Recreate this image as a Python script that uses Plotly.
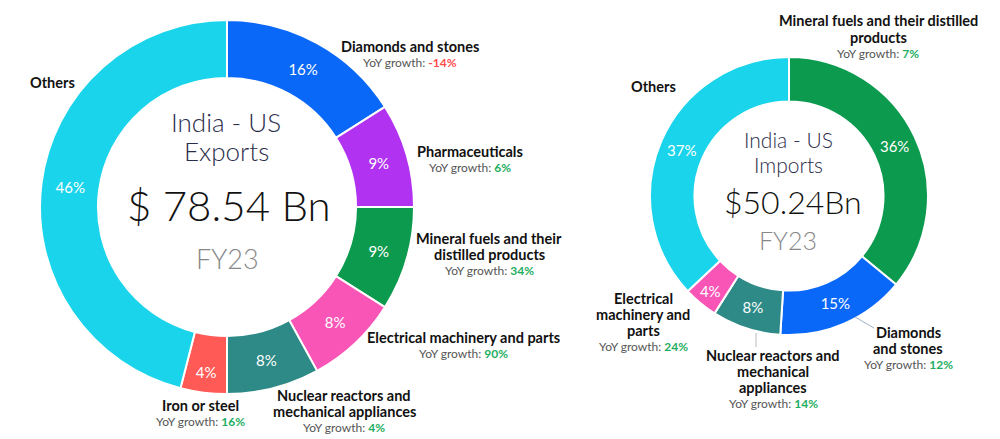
import plotly.graph_objects as go

# ---------------- data ----------------
exp_categories = ["Diamonds and stones", "Pharmaceuticals", "Mineral fuels and their<br>distilled products",
                  "Electrical machinery and parts", "Nuclear reactors and<br>mechanical appliances",
                  "Iron or steel", "Others"]
exp_shares = [16, 9, 9, 8, 8, 4, 46]
exp_growth = [-14, 6, 34, 90, 4, 16, None]

imp_categories = ["Mineral fuels and their distilled<br>products", "Diamonds<br>and stones",
                  "Nuclear reactors and<br>mechanical<br>appliances", "Electrical<br>machinery and<br>parts",
                  "Others"]
imp_shares = [36, 15, 8, 4, 37]
imp_growth = [7, 12, 14, 24, None]

exp_title = ["India - US", "Exports"]
imp_title = ["India - US", "Imports"]
exp_total = "$ 78.54 Bn"
imp_total = "$50.24Bn"
year = "FY23"

# ---------------- style ----------------
exp_colors = ["#0A68F8", "#B232F2", "#0C9A4E", "#F955B7", "#2E8A86", "#FF5A56", "#19D4EB"]
imp_colors = ["#0C9A4E", "#0A68F8", "#2E8A86", "#F955B7", "#19D4EB"]
GREEN = "#1EAE62"
RED = "#FF4B4B"
FONT = "Lato"
LINE_H = 16

W, H = 1000, 439


def px(x):
    return x / W


def py(y):
    return 1 - y / H


fig = go.Figure()

fig.add_trace(go.Pie(
    values=exp_shares, labels=exp_categories, sort=False, direction="clockwise", rotation=0,
    hole=0.69, marker=dict(colors=exp_colors, line=dict(color="white", width=2)),
    texttemplate="%{value}%", textposition="inside", insidetextorientation="horizontal",
    textfont=dict(color="white", size=15, family=FONT),
    domain=dict(x=[px(40), px(414)], y=[py(394), py(20)]),
    showlegend=False, hoverinfo="label+value",
))

fig.add_trace(go.Pie(
    values=imp_shares, labels=imp_categories, sort=False, direction="clockwise", rotation=0,
    hole=0.68, marker=dict(colors=imp_colors, line=dict(color="white", width=2)),
    texttemplate="%{value}%", textposition="inside", insidetextorientation="horizontal",
    textfont=dict(color="white", size=15, family=FONT),
    domain=dict(x=[px(650), px(928)], y=[py(335), py(57)]),
    showlegend=False, hoverinfo="label+value",
))


def txt(x, y, text, size, color, weight=None):
    f = dict(size=size, color=color, family=FONT)
    if weight is not None:
        f["weight"] = weight
    return dict(x=px(x), y=py(y), xref="paper", yref="paper", text=text, showarrow=False,
                xanchor="center", yanchor="middle", align="center", font=f, borderpad=0)


def label_lines(name, g, cx, cy):
    lines = [("name", s) for s in name.split("<br>")]
    if g is not None:
        col = RED if g < 0 else GREEN
        lines.append(("g", f"YoY growth: <b><span style='color:{col}'>{g}%</span></b>"))
    n = len(lines)
    out = []
    for i, (kind, s) in enumerate(lines):
        y = cy + (i - (n - 1) / 2) * LINE_H
        if kind == "name":
            out.append(txt(cx, y, f"<b>{s}</b>", 14.5, "#111111"))
        else:
            out.append(txt(cx, y + 0.5, s, 12, "#555555"))
    return out


# label block centres (pixels)
exp_pos = [(410, 54), (470, 159), (489, 254), (463, 345), (344, 411), (200, 413), (52, 82)]
imp_pos = [(878, 37), (908, 348), (773, 379), (643, 322), (653, 86)]

anns = []
for name, g, (x, y) in zip(exp_categories, exp_growth, exp_pos):
    anns += label_lines(name, g, x, y)
for name, g, (x, y) in zip(imp_categories, imp_growth, imp_pos):
    anns += label_lines(name, g, x, y)

# centre texts
anns += [
    txt(226, 122, exp_title[0], 26, "#2B2D4A", 300),
    txt(226, 151, exp_title[1], 26, "#2B2D4A", 300),
    txt(229, 205, exp_total, 42, "#111111", 300),
    txt(227, 258, year, 27, "#888888", 300),
    txt(788, 139, imp_title[0], 21, "#2B2D4A", 300),
    txt(788, 165, imp_title[1], 21, "#2B2D4A", 300),
    txt(793, 201, imp_total, 32, "#111111", 300),
    txt(788, 240, year, 25, "#888888", 300),
]

# leader lines (right chart)
shapes = [
    dict(type="line", xref="paper", yref="paper", x0=px(855), y0=py(317), x1=px(874), y1=py(328),
         line=dict(color="#9FB0C8", width=1)),
    dict(type="line", xref="paper", yref="paper", x0=px(756), y0=py(333), x1=px(756), y1=py(347),
         line=dict(color="#BBBBBB", width=1)),
]

fig.update_layout(
    width=W, height=H, margin=dict(l=0, r=0, t=0, b=0),
    paper_bgcolor="white", plot_bgcolor="white",
    annotations=anns, shapes=shapes,
    font=dict(family=FONT),
)

fig.write_html("out.html", config={"displayModeBar": False},
               post_script="document.body.style.margin='0';")
